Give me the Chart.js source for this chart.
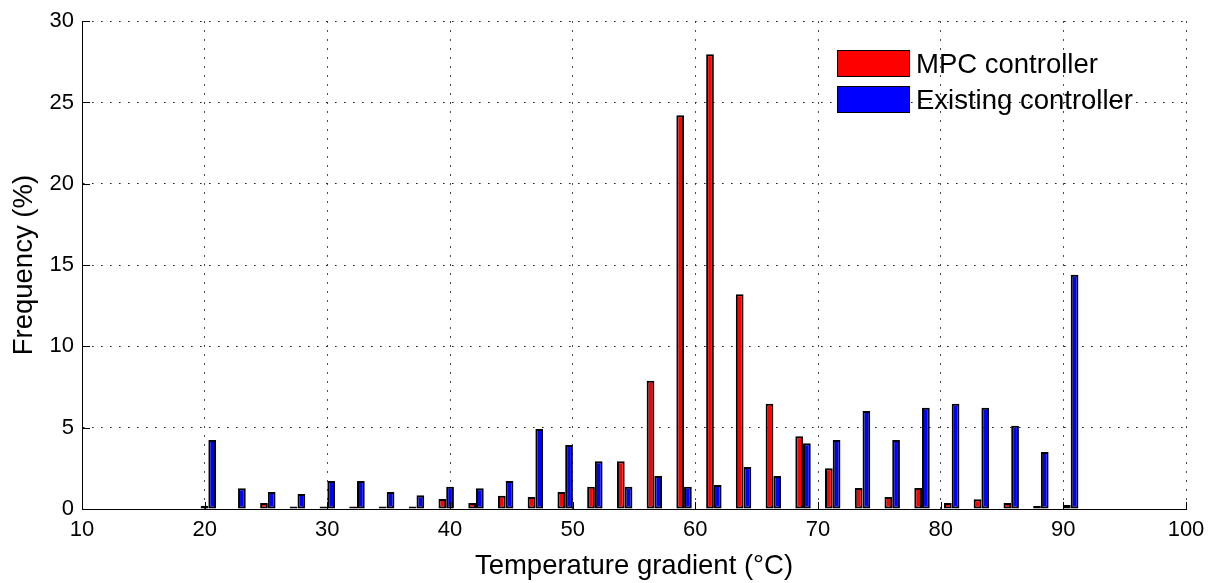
<!DOCTYPE html>
<html>
<head>
<meta charset="utf-8">
<script src="https://cdn.jsdelivr.net/npm/chart.js@4/dist/chart.umd.min.js"></script>
<style>
  body { margin: 0; background: #fff; }
  #wrap { position: relative; width: 1219px; height: 583px; }
  #legend { position: absolute; left: 837px; top: 45.5px; font-family: "Liberation Sans", Arial, sans-serif; font-size: 27.5px; color: #000; }
  .item { display: flex; align-items: center; height: 36px; }
  .swatch { width: 71px; height: 25px; border: 1px solid #000; margin-right: 6px; }
</style>
</head>
<body>
<div id="wrap">
  <canvas id="myChart" width="1219" height="583"></canvas>
  <div id="legend"></div>
</div>
<script>
// bin centres (°C)
var binCentres = [20.3, 22.72, 25.15, 27.57, 30.0, 32.42, 34.84, 37.27, 39.69, 42.12,
                  44.54, 46.96, 49.39, 51.81, 54.24, 56.66, 59.08, 61.51, 63.93, 66.36,
                  68.78, 71.2, 73.63, 76.05, 78.48, 80.9, 83.32, 85.75, 88.17, 90.6];

// frequency (%)
var mpcValues = [0.2, 0, 0.37, 0.15, 0.15, 0.15, 0.15, 0.15, 0.61, 0.37,
                 0.82, 0.74, 1.04, 1.37, 2.93, 7.89, 24.22, 27.97, 13.2, 6.47,
                 4.47, 2.5, 1.29, 0.74, 1.29, 0.37, 0.6, 0.37, 0.18, 0.25];
var existingValues = [4.24, 1.27, 1.04, 0.92, 1.72, 1.72, 1.04, 0.84, 1.37, 1.27,
                      1.72, 4.92, 3.93, 2.93, 1.37, 2.03, 1.37, 1.47, 2.58, 2.03,
                      4.04, 4.24, 6.02, 4.24, 6.23, 6.47, 6.23, 5.12, 3.5, 14.4];

var seriesNames = ["MPC controller", "Existing controller"];
var seriesColors = ["#ff0000", "#0000ff"];

var xTicks = [10, 20, 30, 40, 50, 60, 70, 80, 90, 100];
var yTicks = [0, 5, 10, 15, 20, 25, 30];

var font = "'Liberation Sans', Arial, sans-serif";

function toPoints(vals) {
    return vals.map(function (v, i) { return { x: binCentres[i], y: v }; });
}

// MATLAB style ticks pointing into the plot
var inwardTicks = {
    id: 'inwardTicks',
    afterDraw: function (chart) {
        var ctx = chart.ctx, a = chart.chartArea;
        var xs = chart.scales.x, ys = chart.scales.y;
        ctx.save();
        ctx.strokeStyle = "#000";
        ctx.lineWidth = 1;
        ctx.beginPath();
        xs.ticks.forEach(function (t) {
            var px = Math.round(xs.getPixelForValue(t.value)) + 0.5;
            ctx.moveTo(px, a.bottom);
            ctx.lineTo(px, a.bottom - 7);
        });
        ys.ticks.forEach(function (t) {
            var py = Math.round(ys.getPixelForValue(t.value)) + 0.5;
            ctx.moveTo(a.left, py);
            ctx.lineTo(a.left + 8, py);
        });
        ctx.stroke();
        ctx.restore();
    }
};

var gridDots = { color: "#222", lineWidth: 1, drawTicks: false, offset: false };

new Chart("myChart", {
    type: "bar",
    data: {
        datasets: [{
            label: seriesNames[0],
            data: toPoints(mpcValues),
            backgroundColor: seriesColors[0],
            borderColor: "#000",
            borderWidth: 2,
            borderSkipped: false
        }, {
            label: seriesNames[1],
            data: toPoints(existingValues),
            backgroundColor: seriesColors[1],
            borderColor: "#000",
            borderWidth: 2,
            borderSkipped: false
        }]
    },
    options: {
        responsive: false,
        animation: false,
        categoryPercentage: 0.52,
        barPercentage: 1,
        layout: { padding: { left: 0, right: 33, top: 21, bottom: 0 } },
        plugins: {
            legend: { display: false },
            tooltip: { enabled: false }
        },
        scales: {
            x: {
                type: "linear",
                min: 10,
                max: 100,
                offset: false,
                afterBuildTicks: function (s) { s.ticks = xTicks.map(function (v) { return { value: v }; }); },
                afterFit: function (s) { s.height = 74; },
                grid: gridDots,
                border: { display: true, color: "#000", width: 1, dash: [1.6, 7.4] },
                ticks: { padding: 8, color: "#000", font: { family: font, size: 22 } },
                title: {
                    display: true,
                    text: "Temperature gradient (°C)",
                    color: "#000",
                    font: { family: font, size: 27.5 },
                    padding: { top: 0, bottom: 0 }
                }
            },
            y: {
                min: 0,
                max: 30,
                afterBuildTicks: function (s) { s.ticks = yTicks.map(function (v) { return { value: v }; }); },
                afterFit: function (s) { s.width = 82; },
                grid: gridDots,
                border: { display: true, color: "#000", width: 1, dash: [1.6, 7.4] },
                ticks: { padding: 8, color: "#000", font: { family: font, size: 22 } },
                title: {
                    display: true,
                    text: "Frequency (%)",
                    color: "#000",
                    font: { family: font, size: 27.5 },
                    padding: { top: 8, bottom: 0 }
                }
            }
        }
    },
    plugins: [inwardTicks]
});

// legend drawn as html inside the axes, like the matlab one
var legend = document.getElementById("legend");
seriesNames.forEach(function (name, i) {
    var row = document.createElement("div");
    row.className = "item";
    var sw = document.createElement("div");
    sw.className = "swatch";
    sw.style.background = seriesColors[i];
    var txt = document.createElement("span");
    txt.textContent = name;
    row.appendChild(sw);
    row.appendChild(txt);
    legend.appendChild(row);
});
</script>
</body>
</html>
